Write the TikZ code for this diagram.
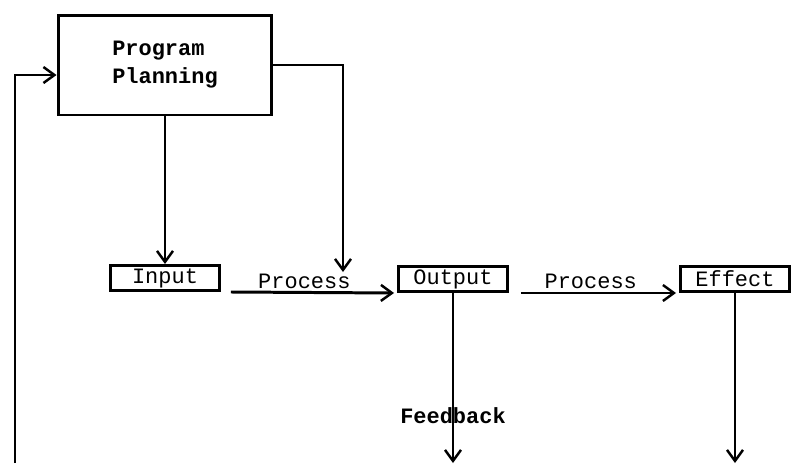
\documentclass[tikz,border=0pt]{standalone}
\usepackage{fontspec}
\setmonofont{Liberation Mono}
\usetikzlibrary{arrows.meta}
\begin{document}
\begin{tikzpicture}[
 x=0.02cm,y=-0.02cm,
 every node/.style={font=\ttfamily\fontsize{12.5}{14}\selectfont},
 line width=1.7pt,
 >={Straight Barb[length=2.2mm,width=3.2mm,line width=1.4pt]},
 planbox/.style={draw,align=left,minimum width=4.28cm,minimum height=2cm,inner sep=0pt},
 stagebox/.style={draw,minimum width=2.18cm,minimum height=0.5cm,inner sep=0pt}
]
 \useasboundingbox (0,0) rectangle (795,464);

 \node[planbox,font=\ttfamily\bfseries\fontsize{12.5}{16}\selectfont] (plan) at (165,65) {Program\\Planning};
 \node[stagebox] (input) at (165,278) {Input};
 \node[stagebox] (output) at (453,279) {Output};
 \node[stagebox] (effect) at (735,279) {Effect};

 % free ends at the lower edge and on the left
 \coordinate (fbot) at (15,463);
 \coordinate (fleft) at (15,75);
 \coordinate (planin) at (343,272);

 \draw[->] (plan.south) -- (input.north);
 \draw[->] (plan.east) -| (planin);

 \draw[->] ([xshift=0.2cm]input.south east) -- ([xshift=-0.06cm]output.south west)
  node[pos=0.45,above=-2pt] {Process};
 \draw[->] ([xshift=0.24cm]output.south east) -- ([xshift=-0.06cm]effect.south west)
  node[pos=0.45,above=-2pt] {Process};

 \draw[->] (output.south) -- (output.south |- fbot)
  node[pos=0.72,font=\ttfamily\bfseries\fontsize{12.5}{14}\selectfont] {Feedback};
 \draw[->] (effect.south) -- (effect.south |- fbot);

 \draw[->] (fbot) -- (fleft) -- (fleft -| plan.west);
\end{tikzpicture}
\end{document}
